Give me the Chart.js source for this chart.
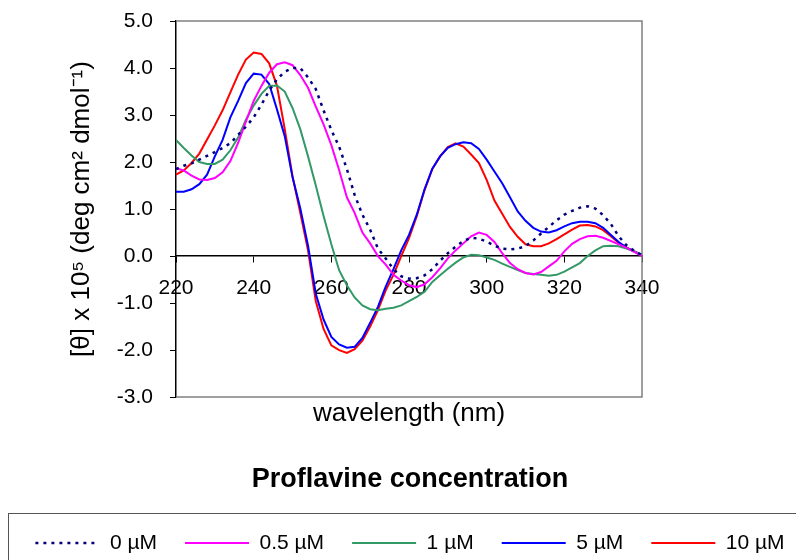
<!DOCTYPE html>
<html>
<head>
<meta charset="utf-8">
<script src="https://cdn.jsdelivr.net/npm/chart.js@4/dist/chart.umd.min.js"></script>
<style>
	html, body { margin: 0; padding: 0; background: #fff; }
	#cd_chart { display: block; }
</style>
</head>
<body>
<canvas id="cd_chart" width="796" height="560"></canvas>
<script>
// wavelengths (nm), read every 2 nm
const wavelengths = [220,222,224,226,228,230,232,234,236,238,240,242,244,246,248,250,252,254,256,258,
	260,262,264,266,268,270,272,274,276,278,280,282,284,286,288,290,292,294,296,298,
	300,302,304,306,308,310,312,314,316,318,320,322,324,326,328,330,332,334,336,338,340];

// [theta] x 10^5 for each proflavine concentration
const conc_0 = [1.85,1.92,1.97,2.05,2.13,2.21,2.30,2.40,2.58,2.75,2.95,3.22,3.52,3.76,3.92,4.00,4.00,3.80,3.55,3.10,
	2.68,2.33,1.85,1.30,0.88,0.56,0.16,-0.05,-0.28,-0.43,-0.48,-0.47,-0.41,-0.28,-0.10,0.06,0.20,0.32,0.39,0.37,
	0.31,0.22,0.16,0.14,0.16,0.21,0.33,0.48,0.62,0.76,0.88,0.96,1.03,1.06,1.01,0.87,0.68,0.42,0.23,0.11,0.02];
const conc_05 = [1.87,1.82,1.71,1.63,1.62,1.66,1.78,2.02,2.41,2.86,3.30,3.62,3.90,4.08,4.12,4.06,3.85,3.58,3.18,2.80,
	2.36,1.83,1.25,0.92,0.50,0.27,0.00,-0.18,-0.40,-0.52,-0.62,-0.66,-0.60,-0.45,-0.26,-0.05,0.12,0.27,0.42,0.50,
	0.45,0.30,0.06,-0.15,-0.28,-0.36,-0.39,-0.34,-0.22,-0.10,0.10,0.26,0.36,0.42,0.43,0.39,0.32,0.25,0.18,0.09,0.00];
const conc_1 = [2.47,2.30,2.14,2.00,1.96,1.96,2.05,2.25,2.52,2.90,3.20,3.45,3.62,3.63,3.50,3.15,2.70,2.12,1.50,0.85,
	0.25,-0.30,-0.62,-0.88,-1.05,-1.13,-1.15,-1.12,-1.10,-1.05,-0.96,-0.87,-0.76,-0.55,-0.41,-0.27,-0.14,-0.03,0.03,0.02,
	-0.03,-0.08,-0.16,-0.23,-0.30,-0.36,-0.38,-0.40,-0.42,-0.40,-0.33,-0.24,-0.15,0.00,0.12,0.21,0.22,0.21,0.16,0.10,0.02];
const conc_5 = [1.37,1.37,1.42,1.53,1.73,2.12,2.47,2.95,3.30,3.68,3.88,3.86,3.66,3.12,2.55,1.68,1.02,0.22,-0.80,-1.35,
	-1.72,-1.88,-1.95,-1.93,-1.74,-1.42,-1.08,-0.65,-0.28,0.12,0.45,0.88,1.42,1.86,2.12,2.30,2.38,2.42,2.40,2.28,
	2.05,1.80,1.55,1.25,0.95,0.75,0.60,0.52,0.50,0.55,0.63,0.70,0.73,0.73,0.70,0.60,0.45,0.30,0.18,0.10,0.02];
const conc_10 = [1.73,1.82,1.98,2.18,2.48,2.78,3.10,3.48,3.86,4.18,4.33,4.30,4.10,3.62,2.70,1.70,0.92,0.12,-0.96,-1.55,
	-1.90,-2.00,-2.06,-1.98,-1.80,-1.50,-1.15,-0.73,-0.40,0.00,0.38,0.85,1.40,1.85,2.12,2.32,2.40,2.33,2.16,1.98,
	1.62,1.18,0.90,0.62,0.41,0.25,0.21,0.21,0.27,0.36,0.46,0.56,0.65,0.66,0.63,0.55,0.42,0.28,0.18,0.10,0.02];

const series_labels = ['0 \u00b5M', '0.5 \u00b5M', '1 \u00b5M', '5 \u00b5M', '10 \u00b5M'];
const series_values = [conc_0, conc_05, conc_1, conc_5, conc_10];
const series_colors = ['#000080', '#ff00ff', '#339966', '#0000ff', '#ff0000'];

const x_ticks = [220, 240, 260, 280, 300, 320, 340];
const y_ticks = [-3, -2, -1, 0, 1, 2, 3, 4, 5];

Chart.defaults.font.family = '"Liberation Sans", Arial, sans-serif';
Chart.defaults.color = '#000';

function to_points(values){
	return values.map(function(v, i){ return {x: wavelengths[i], y: v}; });
}

var datasets = [];
series_values.forEach(function(values, i){
	datasets.push({
		label: series_labels[i],
		data: to_points(values),
		borderColor: series_colors[i],
		backgroundColor: series_colors[i],
		borderWidth: i == 0 ? 2.5 : 2,
		borderDash: i == 0 ? [3, 5] : [],
		pointRadius: 0,
		tension: 0,
		fill: false
	});
});

// grey frame round the plot area
const plot_frame = {
	id: 'plot_frame',
	beforeDatasetsDraw(chart){
		const a = chart.chartArea, ctx = chart.ctx;
		ctx.save();
		ctx.strokeStyle = '#808080';
		ctx.lineWidth = 1.5;
		ctx.beginPath();
		ctx.moveTo(a.left, a.top);
		ctx.lineTo(a.right, a.top);
		ctx.lineTo(a.right, a.bottom);
		ctx.lineTo(a.left, a.bottom);
		ctx.stroke();
		ctx.restore();
	}
};

// box round the legend entries
const legend_frame = {
	id: 'legend_frame',
	afterDraw(chart){
		const boxes = chart.legend.legendHitBoxes;
		if(!boxes || !boxes.length){ return; }
		const mid = boxes[0].top + boxes[0].height / 2;
		const ctx = chart.ctx;
		ctx.save();
		ctx.strokeStyle = '#555';
		ctx.lineWidth = 1;
		ctx.strokeRect(8.5, Math.round(mid - 30) + 0.5, chart.width + 20, 100);
		ctx.restore();
	}
};

new Chart(document.getElementById('cd_chart'), {
	type: 'line',
	data: { datasets: datasets },
	plugins: [plot_frame, legend_frame],
	options: {
		responsive: false,
		animation: false,
		layout: { padding: { left: 0, right: -24, top: 21, bottom: -3.5 } },
		scales: {
			x: {
				type: 'linear',
				min: 220, max: 340,
				position: { y: 0 },
				afterBuildTicks(s){ s.ticks = x_ticks.map(function(v){ return {value: v}; }); },
				ticks: { font: { size: 21 }, color: '#000', padding: 14, maxRotation: 0 },
				grid: { drawOnChartArea: false, tickLength: 6, color: '#000', lineWidth: 1 },
				border: { color: '#000', width: 1.5 }
			},
			x2: {
				type: 'linear',
				min: 220, max: 340,
				position: 'bottom',
				ticks: { display: false },
				grid: { display: false },
				border: { display: false },
				title: { display: true, text: 'wavelength (nm)', font: { size: 26 }, color: '#000', padding: { top: 0, bottom: 37 } },
				afterFit(s){ s.height = 69; }
			},
			y: {
				type: 'linear',
				min: -3, max: 5,
				afterBuildTicks(s){ s.ticks = y_ticks.map(function(v){ return {value: v}; }); },
				ticks: { font: { size: 21 }, color: '#000', padding: 17, callback: function(v){ return v.toFixed(1); } },
				grid: { drawOnChartArea: false, tickLength: 6, color: '#000', lineWidth: 1 },
				border: { color: '#000', width: 1.5 },
				title: { display: true, text: '[\u03b8] x 10\u2075 (deg cm\u00b2 dmol\u207b\u00b9)', font: { size: 26 }, color: '#000', padding: { top: 66, bottom: 0 } },
				afterFit(s){ s.width = 176; s.paddingTop = 0; s.paddingBottom = 0; }
			},
			y2: {
				type: 'linear',
				min: -3, max: 5,
				position: 'right',
				ticks: { display: false },
				grid: { display: false },
				border: { display: false },
				afterFit(s){ s.width = 178; s.paddingTop = 0; s.paddingBottom = 0; }
			}
		},
		plugins: {
			legend: {
				position: 'bottom',
				title: { display: true, text: 'Proflavine concentration', color: '#000', font: { size: 27, weight: 'bold' }, padding: { top: 0, bottom: 6 } },
				labels: {
					usePointStyle: true, pointStyle: 'line', pointStyleWidth: 64, padding: 28, color: '#000', font: { size: 21 },
					generateLabels(chart){
						const items = Chart.defaults.plugins.legend.labels.generateLabels(chart);
						items.forEach(function(item){
							const ds = chart.data.datasets[item.datasetIndex];
							item.lineDash = ds.borderDash;
							item.lineWidth = ds.borderWidth;
							item.strokeStyle = ds.borderColor;
						});
						return items;
					}
				}
			},
			tooltip: { enabled: false }
		}
	}
});
</script>
</body>
</html>
